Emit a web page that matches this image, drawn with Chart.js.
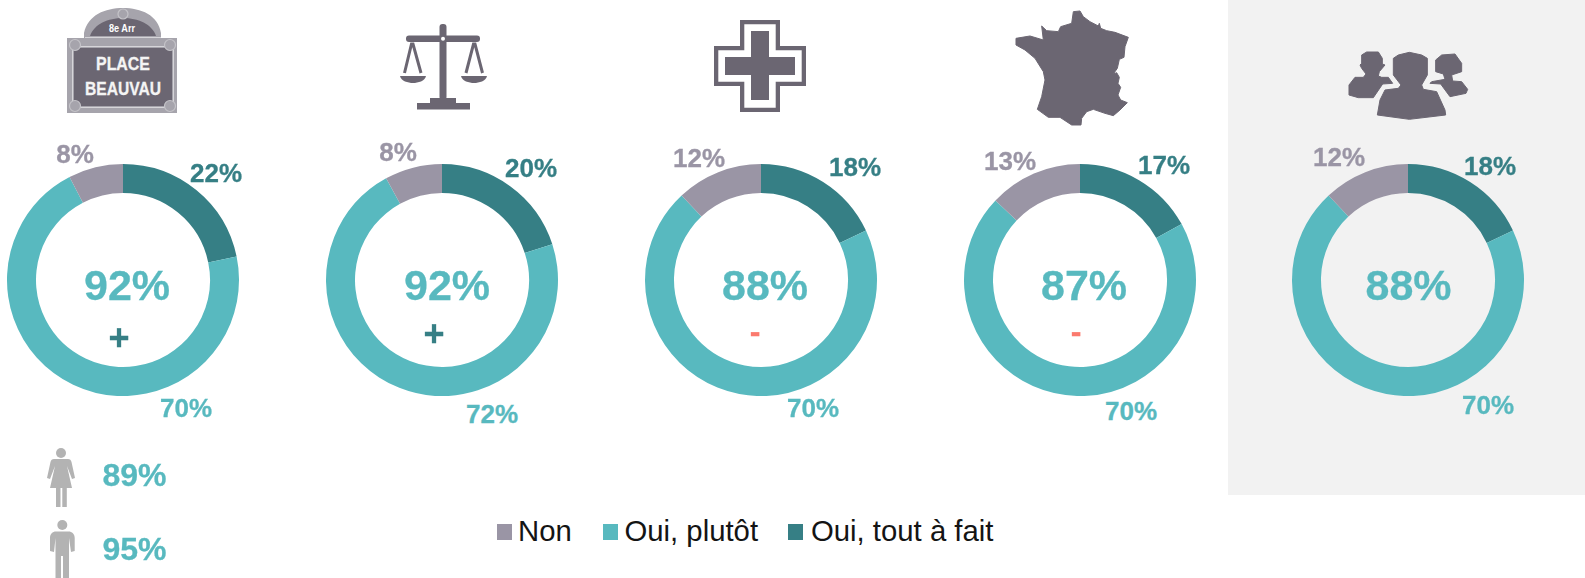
<!DOCTYPE html>
<html lang="fr">
<head>
<meta charset="utf-8">
<title>Donuts</title>
<script src="https://cdn.jsdelivr.net/npm/chart.js@4"></script>
<style>
  html, body { margin: 0; padding: 0; background: #fff; }
  #page { position: relative; width: 1585px; height: 578px; overflow: hidden; font-family: "Liberation Sans", Arial, sans-serif; }
  #panel { position: absolute; left: 1228px; top: 0; width: 357px; height: 495px; background: #f2f2f2; }
  #page canvas { position: absolute; }
  #icons { position: absolute; left: 0; top: 0; }
  .txt { position: absolute; line-height: 1; white-space: nowrap; transform: translateX(-50%); }
  .leg { position: absolute; line-height: 1; white-space: nowrap; color: #141414; }
  .sq { position: absolute; width: 15px; height: 15.5px; }
</style>
</head>
<body>
<div id="page">
  <div id="panel"></div>
  <svg id="icons" width="1585" height="578" font-family="Liberation Sans, Arial, sans-serif">
    <!-- plaque de rue -->
    <path d="M84,38 L84,33 C88,15 105,8 123,8 C141,8 158,15 161,33 L161,38 L177,38 L177,113 L67,113 L67,38 Z" fill="#a6a4ac"/>
    <path d="M90,36 C94,24 108,18 123,18 C138,18 152,24 156,36 Z" fill="#6b6672"/>
    <rect x="74" y="48" width="98" height="58" fill="#6b6672"/>
    <rect x="72.500" y="46.500" width="101" height="61" fill="none" stroke="#d6d5d9" stroke-width="1"/>
    <path d="M85,37.500 H161" stroke="#d6d5d9" stroke-width="1"/>
    <g fill="#a6a4ac" stroke="#c4c3c8" stroke-width="1.200">
      <circle cx="123" cy="14" r="5"/>
      <circle cx="75" cy="45" r="5.500"/>
      <circle cx="170" cy="45" r="5.500"/>
      <circle cx="75" cy="106" r="5.500"/>
      <circle cx="170" cy="106" r="5.500"/>
    </g>
    <text x="109" y="32" fill="#fff" font-size="11" font-weight="bold" textLength="26" lengthAdjust="spacingAndGlyphs">8e Arr</text>
    <text x="96" y="69.500" fill="#f4f4f4" stroke="#f4f4f4" stroke-width="0.300" font-size="18" font-weight="bold" textLength="54" lengthAdjust="spacingAndGlyphs">PLACE</text>
    <text x="85" y="95" fill="#f4f4f4" stroke="#f4f4f4" stroke-width="0.300" font-size="19" font-weight="bold" textLength="76" lengthAdjust="spacingAndGlyphs">BEAUVAU</text>

    <!-- balance -->
    <g fill="#6b6672">
      <rect x="406" y="35.500" width="74" height="6.500" rx="3"/>
      <rect x="439.500" y="24" width="7" height="76" rx="3"/>
      <rect x="430" y="98" width="26" height="6"/>
      <rect x="417" y="103" width="53" height="6.500"/>
      <path d="M400,76 H426 C425,81 418,83 413,83 C408,83 401,81 400,76 Z"/>
      <path d="M461,76 H487 C486,81 479,83 474,83 C469,83 462,81 461,76 Z"/>
    </g>
    <g fill="none" stroke="#6b6672" stroke-width="3">
      <path d="M404.500,73 L411.500,44 H413 L421,73"/>
      <path d="M466,73 L473.500,44 H475 L482.500,73"/>
    </g>
    <circle cx="443" cy="38.700" r="2" fill="#fff"/>

    <!-- croix -->
    <path d="M742.150,22.150 H777.850 V48.150 H803.850 V83.850 H777.850 V109.850 H742.150 V83.850 H716.150 V48.150 H742.150 Z" fill="none" stroke="#6b6672" stroke-width="4.300"/>
    <path d="M751,31 H769 V57 H795 V75 H769 V100 H751 V75 H725 V57 H751 Z" fill="#6b6672"/>

    <!-- France et personnes -->
    <g transform="translate(1000,0) scale(0.33333)" fill="#6b6672" stroke="#6b6672" stroke-width="3" stroke-linejoin="round">
      <polygon points="220,35 240,33 250,50 270,65 295,78 298,70 302,85 320,92 345,97 385,112 375,140 372,172 358,178 352,205 340,222 350,218 358,232 354,250 362,262 354,285 362,300 382,308 360,330 340,347 315,340 280,328 260,335 245,355 243,375 215,375 180,352 145,352 112,328 125,290 135,240 130,215 105,175 75,150 48,135 48,115 90,108 130,120 125,78 140,92 175,95 182,80 215,70"/>
      <polygon points="1180,175 1195,165 1228,157 1265,165 1282,175 1282,225 1265,255 1270,268 1310,275 1335,330 1337,345 1228,358 1132,345 1140,300 1155,270 1195,265 1203,255 1180,225"/>
      <polygon points="1085,165 1100,156 1135,156 1147,175 1147,192 1155,195 1138,215 1135,228 1145,232 1165,232 1178,250 1148,252 1120,293 1075,293 1047,285 1047,255 1065,232 1090,232 1098,222 1085,205 1080,195 1085,190"/>
      <polygon points="1307,180 1325,165 1365,162 1385,190 1385,215 1355,225 1358,243 1385,245 1403,268 1398,280 1350,290 1322,252 1290,250 1295,245 1335,238 1330,222 1307,215"/>
    </g>

    <!-- femme / homme -->
    <g fill="#b3b3b3">
      <circle cx="61" cy="453" r="5"/>
      <path d="M54,459 H68 C70,459 71,460 71.500,462 L75,478 L72,479 L67,466 L72,488 H50 L55,466 L50,479 L47,478 L50.500,462 C51,460 52,459 54,459 Z"/>
      <rect x="56" y="488" width="4.500" height="19"/>
      <rect x="62.300" y="488" width="4.500" height="19"/>
      <circle cx="62.300" cy="525" r="5"/>
      <path d="M56,531.500 H68.500 C72,531.500 74.700,534 74.700,538 V551 L71,552 L69,538 V578 H55.500 V538 L54,552 L50,551 V538 C50,534 52.500,531.500 56,531.500 Z"/>
    </g>
    <rect x="61" y="556" width="2" height="22" fill="#fff"/>
  </svg>
</div>

<script>
const seriesNames = ['Oui, tout à fait', 'Oui, plutôt', 'Non'];
const seriesColors = ['#367f85', '#58b9bf', '#9a95a5'];

const toutAFait = [21.7, 20, 18, 17, 18];
const plutot = [70.4, 72, 70, 70, 70];
const non = [7.6, 8, 12, 13, 12];
const totals = [92, 92, 88, 87, 88];
const signs = ['+', '+', '-', '-', ''];

const femmes = 89;
const hommes = 95;

// placement des anneaux et des textes
const centerX = [123, 441.5, 760.5, 1080, 1408];
const ringTop = 164;
const ringSize = 232;
const totalPos = [[127, 300.5], [447, 300.5], [765, 300.5], [1084, 300.5], [1408.5, 300]];
const toutPos = [[216, 182], [531, 177.5], [855, 176], [1164, 174.5], [1490, 175]];
const plutotPos = [[186, 417], [492, 423], [813, 417], [1131, 420], [1488, 414]];
const nonPos = [[75, 163], [398, 161], [699, 167], [1010, 170.5], [1339, 166]];
const signPos = [[119, 350], [434, 346], [755, 342], [1076, 342], [0, 0]];

const page = document.getElementById('page');

function addText(str, x, baseline, size, color, weight) {
    const el = document.createElement('div');
    el.className = 'txt';
    el.textContent = str;
    el.style.left = x + 'px';
    el.style.top = (baseline - 0.8465 * size) + 'px';
    el.style.fontSize = size + 'px';
    el.style.color = color;
    el.style.fontWeight = weight;
    if (weight === 'bold') {
        el.style.webkitTextStroke = '0.3px ' + color;
    }
    page.appendChild(el);
}

function renderRing(i) {
    const canvas = document.createElement('canvas');
    canvas.width = ringSize;
    canvas.height = ringSize;
    canvas.style.left = (centerX[i] - ringSize / 2) + 'px';
    canvas.style.top = ringTop + 'px';
    page.appendChild(canvas);
    return new Chart(canvas.getContext('2d'), {
        type: 'doughnut',
        data: {
            labels: seriesNames,
            datasets: [{
                data: [toutAFait[i], plutot[i], non[i]],
                backgroundColor: seriesColors,
                borderWidth: 0
            }]
        },
        options: {
            responsive: false,
            animation: false,
            cutout: '75%',
            layout: { padding: 0 },
            plugins: {
                legend: { display: false },
                tooltip: { enabled: false }
            }
        }
    });
}

totals.forEach((total, i) => {
    renderRing(i);
    addText(total + '%', totalPos[i][0], totalPos[i][1], 43, seriesColors[1], 'bold');
    addText(Math.round(toutAFait[i]) + '%', toutPos[i][0], toutPos[i][1], 26, seriesColors[0], 'bold');
    addText(Math.round(plutot[i]) + '%', plutotPos[i][0], plutotPos[i][1], 26, seriesColors[1], 'bold');
    addText(Math.round(non[i]) + '%', nonPos[i][0], nonPos[i][1], 26, seriesColors[2], 'bold');
    if (signs[i] === '+') {
        addText('+', signPos[i][0], signPos[i][1], 36, seriesColors[0], 'bold');
    } else if (signs[i] === '-') {
        addText('-', signPos[i][0], signPos[i][1], 32, '#fb7a6e', 'bold');
    }
});

addText(femmes + '%', 134.5, 486, 32, seriesColors[1], 'bold');
addText(hommes + '%', 134.5, 560, 32, seriesColors[1], 'bold');

// legende dans l'ordre de l'image
const legendOrder = [2, 1, 0];
const legendSquareX = [497, 603, 788];
const legendTextX = [518, 624.5, 811];
legendOrder.forEach((s, i) => {
    const sq = document.createElement('div');
    sq.className = 'sq';
    sq.style.left = legendSquareX[i] + 'px';
    sq.style.top = '524px';
    sq.style.background = seriesColors[s];
    page.appendChild(sq);
    const lab = document.createElement('div');
    lab.className = 'leg';
    lab.textContent = seriesNames[s];
    lab.style.left = legendTextX[i] + 'px';
    lab.style.top = (541 - 0.8465 * 29.3) + 'px';
    lab.style.fontSize = '29.3px';
    page.appendChild(lab);
});
</script>
</body>
</html>
